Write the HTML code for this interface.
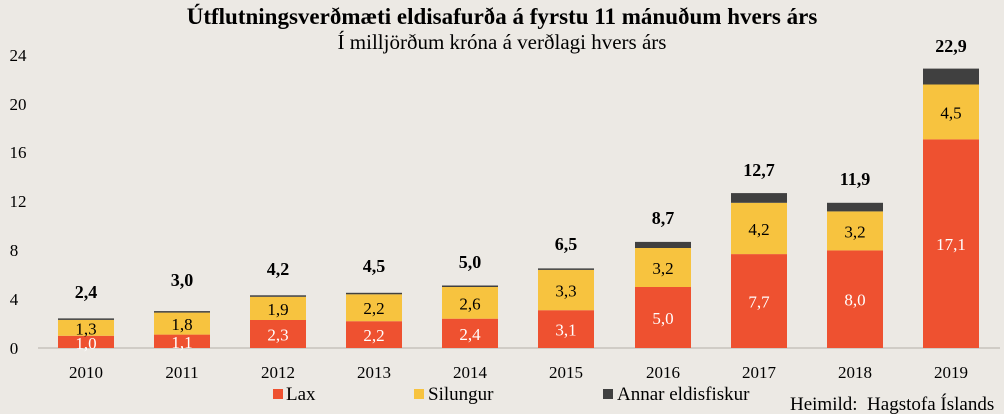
<!DOCTYPE html><html><head><meta charset="utf-8"><style>body{margin:0;background:#ECE9E4}svg{display:block}text{font-family:"Liberation Serif",serif}</style></head><body>
<svg width="1004" height="414" viewBox="0 0 1004 414" xmlns="http://www.w3.org/2000/svg">
<rect width="1004" height="414" fill="#ECE9E4"/>
<text x="502" y="24" text-anchor="middle" font-size="23" font-weight="bold">Útflutningsverðmæti eldisafurða á fyrstu 11 mánuðum hvers árs</text>
<text x="502" y="49" text-anchor="middle" font-size="21">Í milljörðum króna á verðlagi hvers árs</text>
<g font-size="17" text-anchor="middle">
<text x="14" y="354">0</text><text x="14" y="305">4</text><text x="14" y="256">8</text><text x="18" y="207">12</text><text x="18" y="158">16</text><text x="18" y="110">20</text><text x="18" y="61">24</text>
</g>
<line x1="38" y1="348" x2="1000" y2="348" stroke="#d0ccc6" stroke-width="2"/>
<g>
<rect x="58" y="335.8" width="56" height="12.2" fill="#EE5130"/><rect x="58" y="319.9" width="56" height="15.9" fill="#F7C33F"/><rect x="58" y="318.4" width="56" height="1.5" fill="#404040"/>
<rect x="154" y="334.6" width="56" height="13.4" fill="#EE5130"/><rect x="154" y="312.6" width="56" height="22" fill="#F7C33F"/><rect x="154" y="311.1" width="56" height="1.5" fill="#404040"/>
<rect x="250" y="319.9" width="56" height="28.1" fill="#EE5130"/><rect x="250" y="296.8" width="56" height="23.2" fill="#F7C33F"/><rect x="250" y="295.3" width="56" height="1.5" fill="#404040"/>
<rect x="346" y="321.2" width="56" height="26.8" fill="#EE5130"/><rect x="346" y="294.3" width="56" height="26.9" fill="#F7C33F"/><rect x="346" y="292.8" width="56" height="1.5" fill="#404040"/>
<rect x="442" y="318.7" width="56" height="29.3" fill="#EE5130"/><rect x="442" y="287" width="56" height="31.7" fill="#F7C33F"/><rect x="442" y="285.5" width="56" height="1.5" fill="#404040"/>
<rect x="538" y="310.2" width="56" height="37.8" fill="#EE5130"/><rect x="538" y="269.9" width="56" height="40.3" fill="#F7C33F"/><rect x="538" y="268.4" width="56" height="1.5" fill="#404040"/>
<rect x="635" y="287" width="56" height="61" fill="#EE5130"/><rect x="635" y="248" width="56" height="39" fill="#F7C33F"/><rect x="635" y="241.9" width="56" height="6.1" fill="#404040"/>
<rect x="731" y="254.1" width="56" height="93.9" fill="#EE5130"/><rect x="731" y="202.8" width="56" height="51.3" fill="#F7C33F"/><rect x="731" y="193.1" width="56" height="9.7" fill="#404040"/>
<rect x="827" y="250.4" width="56" height="97.6" fill="#EE5130"/><rect x="827" y="211.4" width="56" height="39" fill="#F7C33F"/><rect x="827" y="202.8" width="56" height="8.6" fill="#404040"/>
<rect x="923" y="139.4" width="56" height="208.6" fill="#EE5130"/><rect x="923" y="84.5" width="56" height="54.9" fill="#F7C33F"/><rect x="923" y="68.6" width="56" height="15.9" fill="#404040"/>
</g>
<g font-size="17" text-anchor="middle" fill="#fff">
<text x="86" y="349">1,0</text><text x="182" y="348">1,1</text><text x="278" y="340.5">2,3</text><text x="374" y="341">2,2</text><text x="470" y="340">2,4</text><text x="566" y="335.5">3,1</text><text x="663" y="324">5,0</text><text x="759" y="307.5">7,7</text><text x="855" y="305.5">8,0</text><text x="951" y="250">17,1</text>
</g>
<g font-size="17" text-anchor="middle">
<text x="86" y="334.5">1,3</text><text x="182" y="330">1,8</text><text x="278" y="315">1,9</text><text x="374" y="314">2,2</text><text x="470" y="309.5">2,6</text><text x="566" y="296.5">3,3</text><text x="663" y="274">3,2</text><text x="759" y="235">4,2</text><text x="855" y="237.5">3,2</text><text x="951" y="118.5">4,5</text>
</g>
<g font-size="18" font-weight="bold" text-anchor="middle">
<text x="86" y="298">2,4</text><text x="182" y="286">3,0</text><text x="278" y="275">4,2</text><text x="374" y="272">4,5</text><text x="470" y="268">5,0</text><text x="566" y="250">6,5</text><text x="663" y="224">8,7</text><text x="759" y="176">12,7</text><text x="855" y="185">11,9</text><text x="951" y="52">22,9</text>
</g>
<g font-size="17" text-anchor="middle">
<text x="86" y="378">2010</text><text x="182" y="378">2011</text><text x="278" y="378">2012</text><text x="374" y="378">2013</text><text x="470" y="378">2014</text><text x="566" y="378">2015</text><text x="663" y="378">2016</text><text x="759" y="378">2017</text><text x="855" y="378">2018</text><text x="951" y="378">2019</text>
</g>
<g font-size="19">
<rect x="273" y="389" width="10" height="10" fill="#EE5130"/><text x="286" y="400">Lax</text>
<rect x="414" y="389" width="10" height="10" fill="#F7C33F"/><text x="428" y="400">Silungur</text>
<rect x="603" y="389" width="10" height="10" fill="#404040"/><text x="617" y="400">Annar eldisfiskur</text>
<text x="790" y="410" xml:space="preserve">Heimild:  Hagstofa Íslands</text>
</g>
</svg></body></html>
